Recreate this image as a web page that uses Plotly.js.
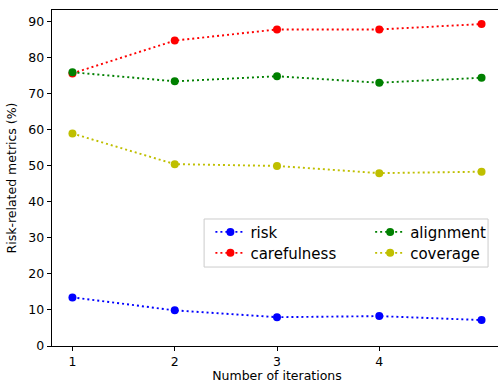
<!DOCTYPE html>
<html>
<head>
<meta charset="utf-8">
<script src="https://cdn.plot.ly/plotly-3.0.1.min.js"></script>
<style>
html,body{margin:0;padding:0;overflow:hidden;background:#fff;}
#chart{width:504px;height:383px;}
</style>
</head>
<body>
<div id="chart"></div>
<script>
const iterations = [1, 2, 3, 4, 5];
const xTickVals = [1, 2, 3, 4];
const yTickVals = [0, 10, 20, 30, 40, 50, 60, 70, 80, 90];
const risk = [13.5, 9.9, 8.0, 8.3, 7.2];
const carefulness = [75.7, 84.8, 87.9, 87.9, 89.4];
const alignment = [76.0, 73.5, 74.9, 73.1, 74.5];
const coverage = [59.0, 50.5, 50.0, 48.0, 48.4];

const FONT = 'DejaVu Sans, sans-serif';
function tr(name, y, color, legend) {
  return {
    x: iterations, y: y, name: name, type: 'scatter', mode: 'lines+markers',
    line: {color: color, width: 1.9, dash: '2px,3px'},
    marker: {color: color, size: 8},
    legend: legend
  };
}
const data = [
  tr('risk', risk, '#0000ff', 'legend'),
  tr('carefulness', carefulness, '#ff0000', 'legend2'),
  tr('alignment', alignment, '#008000', 'legend3'),
  tr('coverage', coverage, '#bfbf00', 'legend4')
];
const legFont = {family: FONT, size: 15, color: '#000'};
function leg(x, y) {
  return {x: x, xanchor: 'left', y: y, yanchor: 'top', bgcolor: 'rgba(0,0,0,0)',
          borderwidth: 0, font: legFont, tracegroupgap: 0};
}
const layout = {
  width: 504, height: 383,
  margin: {l: 52, r: 2, t: 10, b: 37},
  paper_bgcolor: '#fff', plot_bgcolor: '#fff',
  font: {family: FONT, size: 12.5, color: '#000'},
  xaxis: {
    range: [0.8, 5.2], tickvals: xTickVals, ticktext: xTickVals.map(String),
    ticks: 'outside', ticklen: 4.4, tickwidth: 1, tickcolor: '#000',
    showline: true, linecolor: '#000', linewidth: 1, mirror: true,
    showgrid: false, zeroline: false,
    title: {text: 'Number of iterations', font: {family: FONT, size: 12.5}, standoff: 5}
  },
  yaxis: {
    range: [0, 93.3], tickvals: yTickVals, ticktext: yTickVals.map(String),
    ticks: 'outside', ticklen: 4.4, tickwidth: 1, tickcolor: '#000',
    showline: true, linecolor: '#000', linewidth: 1, mirror: true,
    showgrid: false, zeroline: false,
    title: {text: 'Risk-related metrics (%)', font: {family: FONT, size: 12.5}, standoff: 8}
  },
  showlegend: true,
  legend: leg(0.352, 0.388),
  legend2: leg(0.352, 0.3256),
  legend3: leg(0.707, 0.388),
  legend4: leg(0.707, 0.3256),
  shapes: [{type: 'rect', xref: 'paper', yref: 'paper', x0: 0.338, x1: 0.969, y0: 0.235, y1: 0.378,
            line: {color: '#cccccc', width: 1}, fillcolor: 'rgba(255,255,255,0.8)', layer: 'above'}]
};
Plotly.newPlot('chart', data, layout, {staticPlot: true});
</script>
</body>
</html>
